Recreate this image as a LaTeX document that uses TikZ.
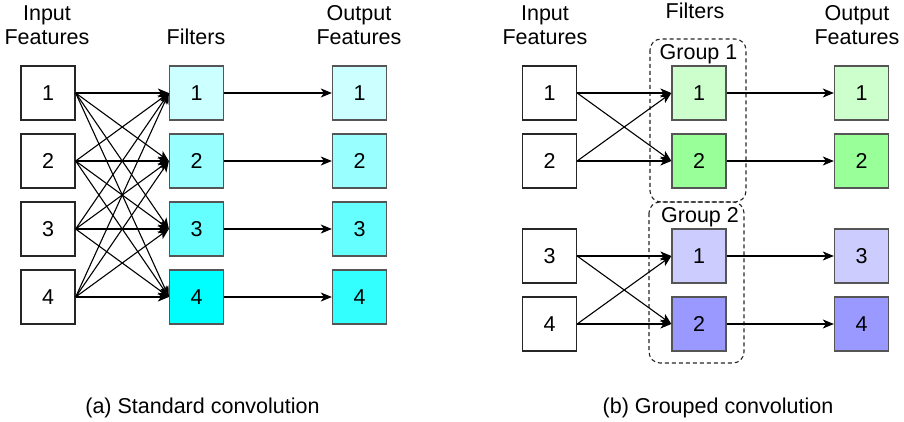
\documentclass[tikz,border=0pt]{standalone}
\usepackage{fontspec}
\setmainfont{Liberation Sans}
\usetikzlibrary{arrows.meta}
\definecolor{c1}{HTML}{CCFFFF}
\definecolor{c2}{HTML}{99FFFF}
\definecolor{c3}{HTML}{66FFFF}
\definecolor{c4}{HTML}{00FFFF}
\definecolor{c4b}{HTML}{33FFFF}
\definecolor{g1}{HTML}{CCFFCC}
\definecolor{g2}{HTML}{99FF99}
\definecolor{b1}{HTML}{CCCCFF}
\definecolor{b2}{HTML}{9999FF}
\definecolor{bord}{HTML}{555555}
\tikzset{
  box/.style={draw=bord, line width=1.3pt, minimum width=54pt, minimum height=54pt, inner sep=0pt, font=\fontsize{21.5}{24}\selectfont},
  inbox/.style={box, draw=black!85, fill=white},
  lbl/.style={inner sep=0pt, align=center, font=\fontsize{21.5}{24}\selectfont},
  conn/.style={line width=1.1pt, -{Stealth[length=11pt,width=9pt,inset=3pt]}},
  grp/.style={draw=black!85, dashed, dash pattern=on 4pt off 3pt, line width=1.1pt, rounded corners=11pt}
}
\begin{document}
\begin{tikzpicture}[x=1pt,y=-1pt]
\useasboundingbox (0,0) rectangle (904,422);
% ---- (a) ----
\node[lbl, anchor=base] (hin) at (47,45) {Input\\Features};
\node[lbl, anchor=base] (hfi) at (196,45) {Filters};
\node[lbl, anchor=base] (hout) at (359,45) {Output\\Features};
\foreach \i/\y in {1/93,2/161,3/229,4/297}{
  \node[inbox] (ai\i) at (48,\y) {\i};
}
\node[box, fill=c1] (af1) at (196.5,93) {1};
\node[box, fill=c2] (af2) at (196.5,161) {2};
\node[box, fill=c3] (af3) at (196.5,229) {3};
\node[box, fill=c4] (af4) at (196.5,297) {4};
\node[box, fill=c1] (ao1) at (359.5,93) {1};
\node[box, fill=c2] (ao2) at (359.5,161) {2};
\node[box, fill=c3] (ao3) at (359.5,229) {3};
\node[box, fill=c4b] (ao4) at (359.5,297) {4};
\foreach \i in {1,...,4}{
  \foreach \j in {1,...,4}{
    \draw[conn] (ai\i.east) -- (af\j.west);
  }
  \draw[conn] (af\i.east) -- (ao\i.west);
}
\node[lbl, anchor=base] (capa) at (202.5,413) {(a) Standard convolution};
% ---- (b) ----
\node[lbl, anchor=base] (hin2) at (545,45) {Input\\Features};
\node[lbl, anchor=base] (hfi2) at (695,19) {Filters};
\node[lbl, anchor=base] (hout2) at (857,45) {Output\\Features};
\draw[grp] (650,39) rectangle (746,202);
\draw[grp] (649,202) rectangle (744,363);
\node[lbl, anchor=base] (g1l) at (698.5,60) {Group 1};
\node[lbl, anchor=base] (g2l) at (700,222) {Group 2};
\foreach \i/\y in {1/93,2/161,3/256,4/324}{
  \node[inbox] (bi\i) at (549.5,\y) {\i};
}
\node[box, fill=g1] (bf1) at (699,93) {1};
\node[box, fill=g2] (bf2) at (699,161) {2};
\node[box, fill=b1] (bf3) at (699,256) {1};
\node[box, fill=b2] (bf4) at (699,324) {2};
\node[box, fill=g1] (bo1) at (861.5,93) {1};
\node[box, fill=g2] (bo2) at (861.5,161) {2};
\node[box, fill=b1] (bo3) at (861.5,256) {3};
\node[box, fill=b2] (bo4) at (861.5,324) {4};
\foreach \a/\b in {1/1,1/2,2/1,2/2,3/3,3/4,4/3,4/4}{
  \draw[conn] (bi\a.east) -- (bf\b.west);
}
\foreach \i in {1,...,4}{
  \draw[conn] (bf\i.east) -- (bo\i.west);
}
\node[lbl, anchor=base] (capb) at (718,413) {(b) Grouped convolution};
\end{tikzpicture}
\end{document}
